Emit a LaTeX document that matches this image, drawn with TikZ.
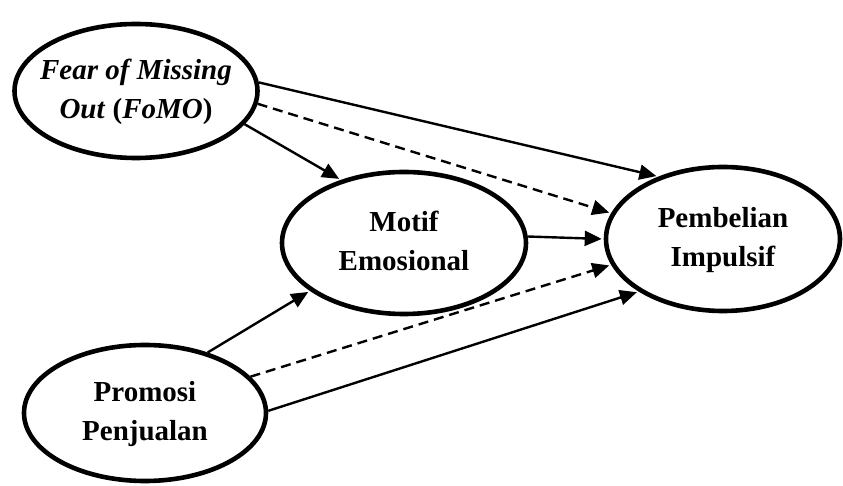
\documentclass[tikz,border=0pt]{standalone}
\usepackage{fontspec}
\setmainfont{Liberation Serif}
\usetikzlibrary{arrows.meta,shapes.geometric}

\newcommand{\varname}[1]{\makebox[0pt]{\begin{tabular}{@{}c@{}}#1\end{tabular}}}

\tikzset{
  var/.style={draw, ellipse, line width=2.3pt, inner sep=0pt,
    font=\fontsize{14.5}{19.5}\selectfont\bfseries},
  link/.style={line width=1.2pt, shorten >=1pt, -{Triangle[length=8.5pt,width=7.5pt]}},
  dlink/.style={link, dash pattern=on 5pt off 3pt},
}

\begin{document}
\begin{tikzpicture}[x=0.5pt,y=-0.5pt]
      \useasboundingbox (0,0) rectangle (843,486);

      \node[var, minimum width=121.5pt, minimum height=67pt] (fomo) at (136,91)
        {\varname{\textit{Fear of Missing}\\\textit{Out} (\textit{FoMO})}};
      \node[var, minimum width=122pt, minimum height=71pt] (motif) at (404,243)
        {\varname{Motif\\Emosional}};
      \node[var, minimum width=117pt, minimum height=72pt] (beli) at (723,239)
        {\varname{Pembelian\\Impulsif}};
      \node[var, minimum width=121pt, minimum height=68pt] (promo) at (145,413)
        {\varname{Promosi\\Penjualan}};

      \draw[link] (fomo.4) -- (beli.136);
      \draw[dlink] (fomo.-6) -- (beli.167);
      \draw[link] (fomo.-17) -- (motif.135);
      \draw[link] (motif.3) -- (beli.180);
      \draw[link] (promo.44) -- (motif.207);
      \draw[dlink] (promo.19) -- (beli.193);
      \draw[link] (promo.1) -- (beli.212);
    \end{tikzpicture}
\end{document}
